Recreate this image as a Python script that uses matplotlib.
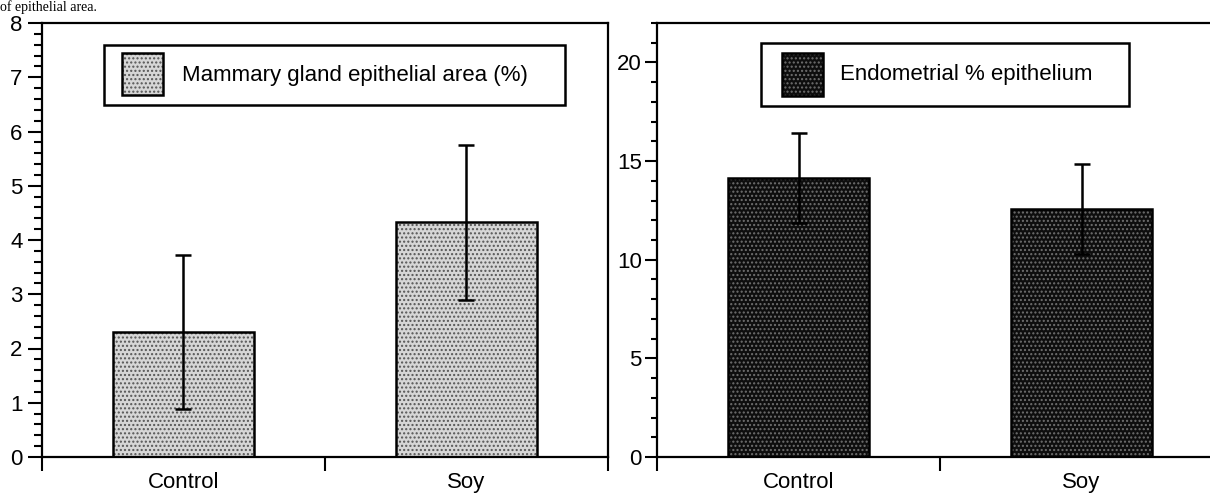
import matplotlib.pyplot as plt
from matplotlib.patches import Rectangle
from matplotlib.ticker import MultipleLocator, FixedLocator
import numpy as np

plt.rcParams["font.family"] = ["Liberation Sans", "DejaVu Sans"]

groups = ["Control", "Soy"]

mammary_mean = [2.30, 4.33]
mammary_err = [1.42, 1.43]
mammary_label = "Mammary gland epithelial area (%)"

endo_mean = [14.13, 12.56]
endo_err = [2.28, 2.28]
endo_label = "Endometrial % epithelium"

FS = 16
W, H = 1210, 493


def panel(fig, left_px, ylim, major, minor, maj_len, min_len, lab_pad):
    # axes placed in pixel units of the original scan
    ax = fig.add_axes([left_px / W, (H - 457) / H, 566 / W, 434 / H])
    ax.set_xlim(-0.5, 1.5)
    ax.set_ylim(*ylim)
    for s in ax.spines.values():
        s.set_linewidth(1.6)
    ax.yaxis.set_major_locator(MultipleLocator(major))
    ax.yaxis.set_minor_locator(MultipleLocator(minor))
    ax.tick_params(axis="y", which="major", direction="out", length=maj_len,
                   width=1.5, labelsize=FS, pad=lab_pad)
    ax.tick_params(axis="y", which="minor", direction="out", length=min_len, width=1.5)
    # boundary ticks below the x axis, group labels between them
    ax.xaxis.set_major_locator(FixedLocator([-0.5, 0.5, 1.5]))
    ax.xaxis.set_major_formatter(plt.NullFormatter())
    ax.set_xticks([0, 1], minor=True)
    ax.set_xticklabels(groups, minor=True)
    ax.tick_params(axis="x", which="major", direction="out", length=10, width=1.5)
    ax.tick_params(axis="x", which="minor", length=0, labelsize=FS, pad=11)
    return ax


def stipple_bars(ax, means, errs, face, dots):
    x = np.arange(len(means))
    ax.bar(x, means, width=0.5, color=face, edgecolor=dots, hatch="....",
           linewidth=0, zorder=2)
    ax.bar(x, means, width=0.5, fill=False, edgecolor="black", linewidth=1.8, zorder=3)
    ax.errorbar(x, means, yerr=errs, fmt="none", ecolor="black", elinewidth=1.8,
                capsize=6, capthick=1.8, zorder=4)


def key(ax, box, handle, text_x, text_y, label, face, dots):
    bx0, by0, bx1, by1 = box
    ax.add_patch(Rectangle((bx0, by0), bx1 - bx0, by1 - by0, transform=ax.transAxes,
                           fill=False, edgecolor="black", linewidth=1.8, zorder=5))
    hx0, hy0, hx1, hy1 = handle
    ax.add_patch(Rectangle((hx0, hy0), hx1 - hx0, hy1 - hy0, transform=ax.transAxes,
                           facecolor=face, edgecolor=dots, hatch="....", linewidth=0,
                           zorder=5))
    ax.add_patch(Rectangle((hx0, hy0), hx1 - hx0, hy1 - hy0, transform=ax.transAxes,
                           fill=False, edgecolor="black", linewidth=1.8, zorder=6))
    ax.text(text_x, text_y, label, transform=ax.transAxes, fontsize=FS,
            va="center", ha="left", zorder=6)


fig = plt.figure(figsize=(W / 100, H / 100), dpi=100)

ax1 = panel(fig, 42, (0, 8), 1, 0.2, 10, 6, 4)
stipple_bars(ax1, mammary_mean, mammary_err, "#d6d6d6", "#555555")
key(ax1, (0.1095, 0.811, 0.924, 0.949), (0.141, 0.834, 0.214, 0.931),
    0.247, 0.880, mammary_label, "#d6d6d6", "#555555")

ax2 = panel(fig, 657, (0, 22), 5, 1, 9, 4, 2)
stipple_bars(ax2, endo_mean, endo_err, "#0e0e0e", "#707070")
key(ax2, (0.184, 0.809, 0.834, 0.954), (0.221, 0.832, 0.293, 0.931),
    0.323, 0.882, endo_label, "#0e0e0e", "#707070")

# remains of the caption line above the figure
fig.text(0.0, 1.0, "of epithelial area.", fontsize=10, family="Liberation Serif",
         va="top", ha="left")

fig.savefig("out.png", dpi=100)
